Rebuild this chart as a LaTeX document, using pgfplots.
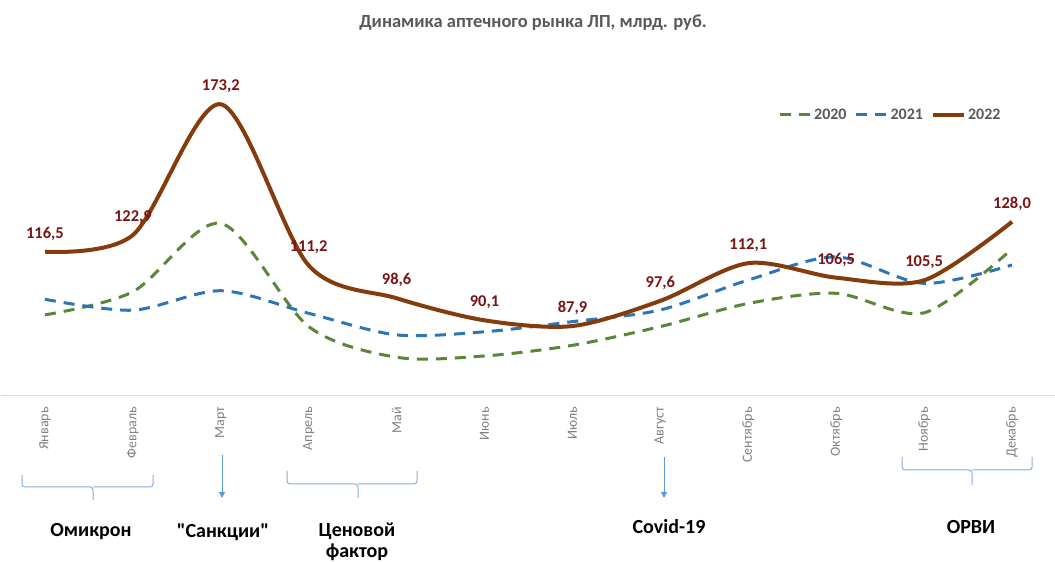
\documentclass[border=0pt]{standalone}
\usepackage{pgfplots}
\pgfplotsset{compat=1.18}
\usepackage{fontspec}
\setmainfont{Carlito}[Ligatures=TeXOff]
\usetikzlibrary{arrows.meta}
\definecolor{cA}{RGB}{90,135,55}
\definecolor{cB}{RGB}{46,117,182}
\definecolor{cC}{RGB}{132,60,12}
\definecolor{lblred}{RGB}{122,20,20}
\definecolor{txtgray}{RGB}{89,89,89}
\definecolor{monthgray}{RGB}{128,128,128}
\definecolor{axgray}{RGB}{217,217,217}
\definecolor{brace}{RGB}{130,175,222}
\definecolor{arrowblue}{RGB}{91,155,213}
\begin{document}
\begin{tikzpicture}[x=1pt,y=1pt]
\path[use as bounding box] (0,0) rectangle (1055,562);
\begin{axis}[
  at={(1pt,166pt)}, anchor=south west,
  scale only axis, width=1055pt, height=335.4pt,
  xmin=-0.5, xmax=11.5, ymin=61, ymax=190,
  clip=false,
  axis y line=none,
  axis x line*=bottom,
  x axis line style={draw=axgray, line width=1pt, -},
  xtick={0,...,11},
  xticklabels={Январь,Февраль,Март,Апрель,Май,Июнь,Июль,Август,Сентябрь,Октябрь,Ноябрь,Декабрь},
  major tick length=0pt,
  x tick label style={yshift=-11pt, rotate=90, anchor=east, inner sep=0pt, font=\fontsize{14}{16}\selectfont, text=monthgray},
  /pgf/number format/.cd, use comma, fixed, fixed zerofill, precision=1, 1000 sep={}, assume math mode=true,
  /pgfplots/.cd,
  legend columns=3,
  legend style={draw=none, fill=none, at={(axis description cs:0.7336,0.8378)}, anchor=west,
    font=\fontsize{16}{18}\selectfont\bfseries, text=txtgray,
    /tikz/every even column/.append style={column sep=6pt}},
  legend image code/.code={\draw[#1] (0pt,0pt) -- (31pt,0pt);},
]
\addplot[smooth, tension=0.5, color=cA, line width=3pt, dash pattern=on 11pt off 8pt] coordinates {
 (0,92.2) (1,101.1) (2,127.4) (3,87.7) (4,75.9) (5,76.4) (6,80.5) (7,87.7) (8,96.6) (9,100.5) (10,93.0) (11,117.6)};
\addlegendentry{2020}
\addplot[smooth, tension=0.5, color=cB, line width=3pt, dash pattern=on 11pt off 8pt] coordinates {
 (0,98.2) (1,94.0) (2,101.5) (3,92.8) (4,84.5) (5,85.7) (6,89.6) (7,94.1) (8,105.6) (9,114.5) (10,104.3) (11,111.4)};
\addlegendentry{2021}
\addplot[smooth, tension=0.5, color=cC, line width=4pt,
  nodes near coords,
  every node near coord/.append style={anchor=center, yshift=18pt, inner sep=0pt,
     font=\fontsize{16.5}{18}\selectfont\bfseries, text=lblred}] coordinates {
 (0,116.5) (1,122.9) (2,173.2) (3,111.2) (4,98.6) (5,90.1) (6,87.9) (7,97.6) (8,112.1) (9,106.5) (10,105.5) (11,128.0)};
\addlegendentry{2022}
\end{axis}
% title
\node[font=\fontsize{18.5}{21}\selectfont\bfseries, text=txtgray] at (533,539) {Динамика аптечного рынка ЛП, млрд. руб.};
% braces
\draw[brace, line width=1pt, rounded corners=3pt] (22,87) -- (22,75) -- (93,75) -- (93,62);
\draw[brace, line width=1pt, rounded corners=3pt] (93,75) -- (153,75) -- (153,87);
\draw[brace, line width=1pt, rounded corners=3pt] (287,91) -- (287,78) -- (358,78) -- (358,64);
\draw[brace, line width=1pt, rounded corners=3pt] (358,78) -- (417,78) -- (417,91);
\draw[brace, line width=1pt, rounded corners=3pt] (902,105) -- (902,92) -- (972,92) -- (972,77);
\draw[brace, line width=1pt, rounded corners=3pt] (972,92) -- (1032,92) -- (1032,105);
% arrows
\draw[arrowblue, line width=1pt, -{Triangle[width=6pt,length=6pt]}] (222,107) -- (222,64);
\draw[arrowblue, line width=1pt, -{Triangle[width=6pt,length=6pt]}] (664,105) -- (664,64);
% annotations
\begin{scope}[every node/.style={font=\fontsize{20}{22}\selectfont\bfseries, text=black}]
\node at (91,30) {Омикрон};
\node at (223,30) {"Санкции"};
\node at (357,31) {Ценовой};
\node at (357,10) {фактор};
\node at (669,35) {Covid-19};
\node at (971,35) {ОРВИ};
\end{scope}
\end{tikzpicture}
\end{document}
